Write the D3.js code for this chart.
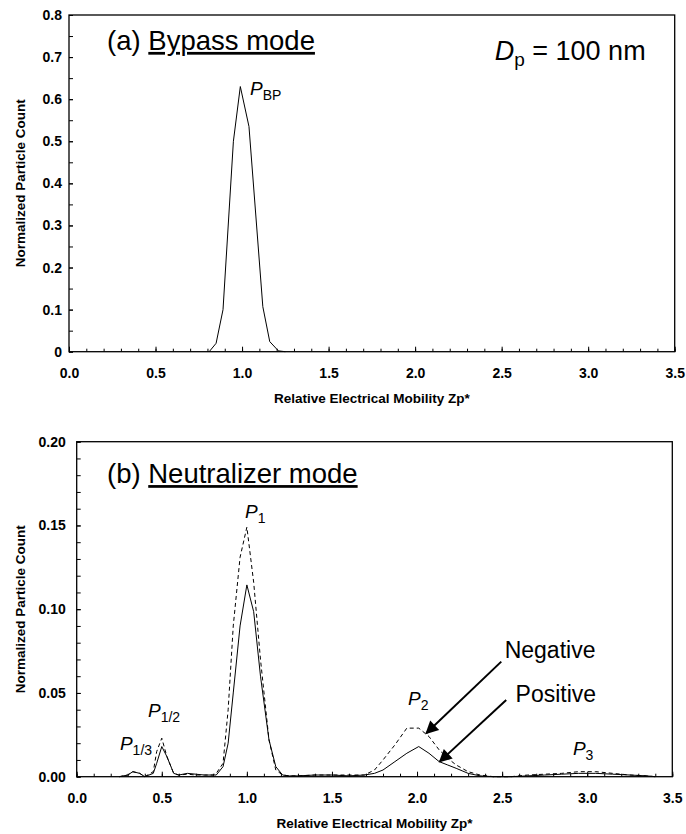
<!DOCTYPE html>
<html>
<head>
<meta charset="utf-8">
<script src="https://cdn.jsdelivr.net/npm/d3@7"></script>
<style>
body { margin: 0; background: #fff; }
text { font-family: "Liberation Sans", Arial, sans-serif; fill: #000; }
</style>
</head>
<body>
<div id="chart"></div>
<script>
// x ticks shared by both panels
var xTicks = [0, 0.5, 1.0, 1.5, 2.0, 2.5, 3.0, 3.5];
var yTicksA = [0, 0.1, 0.2, 0.3, 0.4, 0.5, 0.6, 0.7, 0.8];
var yTicksB = [0, 0.05, 0.10, 0.15, 0.20];

// (a) bypass mode
var zBypass = [0.81, 0.85, 0.89, 0.95, 0.99, 1.04, 1.12, 1.16, 1.21, 1.25];
var countBypass = [0, 0.02, 0.10, 0.50, 0.63, 0.535, 0.107, 0.024, 0.002, 0];

// (b) neutralizer mode
var zNeutral = [0.25, 0.30, 0.33, 0.37, 0.40, 0.45, 0.47, 0.50, 0.53, 0.57, 0.60, 0.65, 0.70, 0.75, 0.80,
    0.82, 0.86, 0.89, 0.92, 0.96, 1.00, 1.04, 1.08, 1.13, 1.17, 1.21, 1.25, 1.30, 1.40, 1.50, 1.60,
    1.69, 1.75, 1.80, 1.87, 1.94, 2.01, 2.07, 2.13, 2.18, 2.23, 2.30, 2.37, 2.45, 2.55, 2.65, 2.75,
    2.85, 2.95, 3.00, 3.05, 3.15, 3.25, 3.35, 3.40];
var countPositive = [0, 0.001, 0.003, 0.002, 0, 0.002, 0.008, 0.018, 0.012, 0.002, 0.001, 0.002, 0.0015, 0.001, 0.001,
    0.001, 0.006, 0.02, 0.05, 0.09, 0.1145, 0.0985, 0.06, 0.022, 0.006, 0.001, 0.0005, 0.0005, 0.001, 0.001, 0.0005,
    0.001, 0.002, 0.004, 0.009, 0.014, 0.018, 0.014, 0.009, 0.007, 0.005, 0.002, 0.0005, 0, 0, 0.0005, 0.001,
    0.0015, 0.002, 0.002, 0.002, 0.0015, 0.001, 0.0005, 0];
var countNegative = [0, 0.001, 0.003, 0.002, 0, 0.003, 0.015, 0.023, 0.012, 0.002, 0.001, 0.0015, 0.001, 0.001, 0.001,
    0.002, 0.008, 0.04, 0.09, 0.131, 0.149, 0.116, 0.07, 0.022, 0.004, 0.001, 0.0005, 0.0005, 0.001, 0.001, 0.001,
    0.001, 0.004, 0.010, 0.019, 0.029, 0.029, 0.024, 0.016, 0.011, 0.007, 0.003, 0.001, 0, 0, 0.001, 0.0015,
    0.002, 0.003, 0.003, 0.003, 0.002, 0.001, 0.0005, 0];

var w = 686;
var h = 834;

var svg = d3.select("#chart").append("svg").attr("width", w).attr("height", h);

// arrow head for the Negative / Positive notes
svg.append("defs").append("marker")
    .attr("id", "head")
    .attr("viewBox", "0 0 10 10")
    .attr("refX", 9).attr("refY", 5)
    .attr("markerWidth", 8).attr("markerHeight", 6.5)
    .attr("markerUnits", "strokeWidth")
    .attr("orient", "auto")
    .append("path").attr("d", "M0,0 L10,5 L0,10 Z").attr("fill", "#000");

// draws frame, ticks and labels, returns the scales
function panel(box, yMax, yTicks, yMinor, yFmt, yPad) {
    var x = d3.scaleLinear().domain([0, 3.5]).range([box.left, box.right]);
    var y = d3.scaleLinear().domain([0, yMax]).range([box.bottom, box.top]);
    var g = svg.append("g");

    // minor ticks
    g.append("g").attr("transform", "translate(0," + box.bottom + ")")
        .call(d3.axisBottom(x).tickValues(d3.range(0, 36).map(function(i) { return i / 10; }))
            .tickSize(-3).tickFormat(""));
    g.append("g").attr("transform", "translate(" + box.left + ",0)")
        .call(d3.axisLeft(y).tickValues(d3.range(0, Math.round(yMax / yMinor) + 1).map(function(i) { return i * yMinor; }))
            .tickSize(-4).tickFormat(""));

    // major ticks with labels
    g.append("g").attr("transform", "translate(0," + box.bottom + ")")
        .call(d3.axisBottom(x).tickValues(xTicks).tickSize(-5).tickPadding(16.5).tickFormat(d3.format(".1f")));
    g.append("g").attr("transform", "translate(" + box.left + ",0)")
        .call(d3.axisLeft(y).tickValues(yTicks).tickSize(-4).tickPadding(yPad).tickFormat(yFmt));

    g.selectAll(".domain").remove();
    g.selectAll(".tick line").attr("stroke", "#000");
    g.selectAll(".tick text")
        .attr("font-family", "Liberation Sans, Arial, sans-serif")
        .attr("font-size", "14px")
        .attr("font-weight", "bold")
        .attr("fill", "#000");

    g.append("rect")
        .attr("x", box.left).attr("y", box.top)
        .attr("width", box.right - box.left).attr("height", box.bottom - box.top)
        .attr("fill", "none").attr("stroke", "#000").attr("stroke-width", 1.3);

    // axis titles
    g.append("text")
        .text("Relative Electrical Mobility Zp*")
        .attr("x", (box.left + box.right) / 2)
        .attr("y", box.bottom + 51)
        .attr("font-size", "13.5px")
        .attr("font-weight", "bold")
        .style("text-anchor", "middle");
    g.append("text")
        .text("Normalized Particle Count")
        .attr("transform", "translate(25," + (box.top + box.bottom) / 2 + ") rotate(-90)")
        .attr("font-size", "13.5px")
        .attr("font-weight", "bold")
        .style("text-anchor", "middle");

    return { x: x, y: y };
}

function curve(sc, zs, vs, dash) {
    var line = d3.line()
        .x(function(d, i) { return sc.x(zs[i]); })
        .y(function(d) { return sc.y(d); });
    svg.append("path")
        .datum(vs)
        .attr("d", line)
        .attr("fill", "none")
        .attr("stroke", "#000")
        .attr("stroke-width", 1)
        .attr("stroke-dasharray", dash);
}

// italic P with a subscript
function peakLabel(sc, z, v, sub) {
    var t = svg.append("text")
        .attr("x", sc.x(z)).attr("y", sc.y(v))
        .attr("font-size", "19px");
    t.append("tspan").text("P").attr("font-style", "italic");
    t.append("tspan").text(sub).attr("font-size", "14px").attr("dy", 5);
}

// ---- (a) Bypass mode
var a = panel({ left: 69, top: 15, right: 674.7, bottom: 351.7 }, 0.8, yTicksA, 0.05,
    function(d) { return d === 0 ? "0" : d3.format(".1f")(d); }, 7);

curve(a, zBypass, countBypass, null);

var ta = svg.append("text").attr("x", a.x(0.22)).attr("y", a.y(0.717)).attr("font-size", "27.5px");
ta.append("tspan").text("(a) ");
ta.append("tspan").text("Bypass mode").style("text-decoration", "underline");

var td = svg.append("text").attr("x", a.x(2.46)).attr("y", a.y(0.693)).attr("font-size", "27px");
td.append("tspan").text("D").attr("font-style", "italic");
td.append("tspan").text("p").attr("font-size", "19px").attr("dy", 6);
td.append("tspan").text(" = 100 nm").attr("dy", -6);

peakLabel(a, 1.046, 0.61, "BP");

// ---- (b) Neutralizer mode
var b = panel({ left: 76.7, top: 441.7, right: 672.3, bottom: 776.7 }, 0.2, yTicksB, 0.01,
    d3.format(".2f"), 11);

curve(b, zNeutral, countNegative, "4,3");
curve(b, zNeutral, countPositive, null);

var tb = svg.append("text").attr("x", b.x(0.178)).attr("y", b.y(0.1753)).attr("font-size", "27.5px");
tb.append("tspan").text("(b) ");
tb.append("tspan").text("Neutralizer mode").style("text-decoration", "underline");

peakLabel(b, 0.989, 0.1545, "1");
peakLabel(b, 0.419, 0.0358, "1/2");
peakLabel(b, 0.254, 0.0159, "1/3");
peakLabel(b, 1.947, 0.0428, "2");
peakLabel(b, 2.916, 0.013, "3");

svg.append("text").text("Negative")
    .attr("x", b.x(2.515)).attr("y", b.y(0.0709)).attr("font-size", "23px");
svg.append("text").text("Positive")
    .attr("x", b.x(2.579)).attr("y", b.y(0.0448)).attr("font-size", "23px");

// arrows
svg.append("line")
    .attr("x1", b.x(2.495)).attr("y1", b.y(0.0687))
    .attr("x2", b.x(2.054)).attr("y2", b.y(0.0259))
    .attr("stroke", "#000").attr("stroke-width", 2).attr("marker-end", "url(#head)");
svg.append("line")
    .attr("x1", b.x(2.524)).attr("y1", b.y(0.0458))
    .attr("x2", b.x(2.133)).attr("y2", b.y(0.009))
    .attr("stroke", "#000").attr("stroke-width", 2).attr("marker-end", "url(#head)");
</script>
</body>
</html>
